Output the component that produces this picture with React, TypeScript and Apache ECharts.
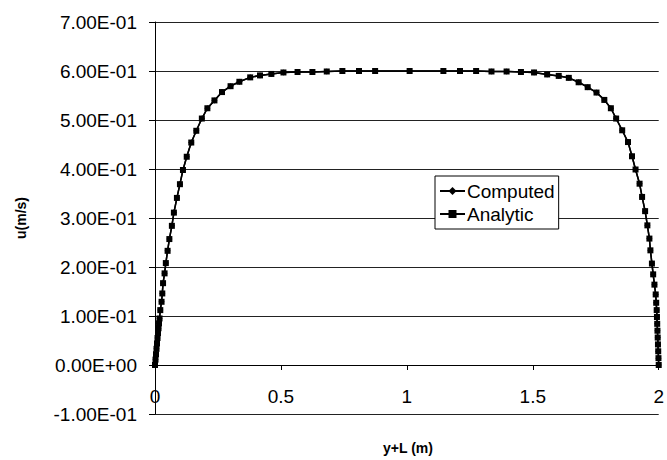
import React, { useEffect, useRef } from "react";
import * as echarts from "echarts";

// y+L (m) positions of the profile points
const xValues = [
  0, 0.002, 0.004, 0.006, 0.008, 0.01, 0.012, 0.014, 0.016, 0.018,
  0.021, 0.026, 0.029, 0.032, 0.038, 0.043, 0.05, 0.057, 0.067, 0.075,
  0.087, 0.099, 0.111, 0.126, 0.144, 0.164, 0.186, 0.208, 0.236, 0.266,
  0.3, 0.335, 0.378, 0.417, 0.462, 0.51, 0.566, 0.625, 0.682, 0.744,
  0.81, 0.874, 1.011,
  1.145, 1.211, 1.275, 1.336, 1.396, 1.453, 1.505, 1.557, 1.603, 1.643,
  1.682, 1.718, 1.753, 1.784, 1.81, 1.831, 1.855, 1.878, 1.894, 1.908,
  1.924, 1.934, 1.946, 1.955, 1.963, 1.967, 1.973, 1.978, 1.983, 1.988,
  1.99, 1.992, 1.993, 1.994, 1.995, 1.996, 1.997, 1.998, 1.999, 2.0,
];

// u (m/s), analytic solution
const analyticU = [
  0, 0.011, 0.022, 0.033, 0.044, 0.055, 0.065, 0.075, 0.085, 0.095,
  0.112, 0.129, 0.146, 0.167, 0.187, 0.208, 0.233, 0.257, 0.284, 0.311,
  0.341, 0.369, 0.398, 0.425, 0.454, 0.478, 0.503, 0.524, 0.54, 0.557,
  0.569, 0.578, 0.587, 0.591, 0.594, 0.597, 0.598, 0.598, 0.599, 0.6,
  0.6, 0.6, 0.6,
  0.6, 0.6, 0.6, 0.599, 0.599, 0.598, 0.597, 0.593, 0.59, 0.586,
  0.577, 0.567, 0.556, 0.541, 0.524, 0.503, 0.479, 0.455, 0.426, 0.399,
  0.37, 0.343, 0.314, 0.285, 0.258, 0.234, 0.207, 0.185, 0.164, 0.144,
  0.127, 0.112, 0.098, 0.084, 0.07, 0.056, 0.042, 0.028, 0.014, 0,
];

// u (m/s), computed solution (indistinguishable from the analytic one in the plot)
const computedU = [
  0, 0.011, 0.022, 0.033, 0.044, 0.055, 0.065, 0.075, 0.085, 0.095,
  0.112, 0.129, 0.146, 0.167, 0.187, 0.208, 0.233, 0.257, 0.284, 0.311,
  0.341, 0.369, 0.398, 0.425, 0.454, 0.478, 0.503, 0.524, 0.54, 0.557,
  0.569, 0.578, 0.587, 0.591, 0.594, 0.597, 0.598, 0.598, 0.599, 0.6,
  0.6, 0.6, 0.6,
  0.6, 0.6, 0.6, 0.599, 0.599, 0.598, 0.597, 0.593, 0.59, 0.586,
  0.577, 0.567, 0.556, 0.541, 0.524, 0.503, 0.479, 0.455, 0.426, 0.399,
  0.37, 0.343, 0.314, 0.285, 0.258, 0.234, 0.207, 0.185, 0.164, 0.144,
  0.127, 0.112, 0.098, 0.084, 0.07, 0.056, 0.042, 0.028, 0.014, 0,
];

const seriesNames = ["Computed", "Analytic"];
const xTitle = "y+L (m)";
const yTitle = "u(m/s)";

const FONT = "'Liberation Sans', Arial, sans-serif";

function sciLabel(v: number): string {
  const s = v.toExponential(2); // e.g. "7.00e-1"
  const [mant, exp] = s.split("e");
  const sign = exp[0] === "-" ? "-" : "+";
  const digits = exp.replace(/^[+-]/, "").padStart(2, "0");
  return `${mant}E${sign}${digits}`;
}

export default function App() {
  const ref = useRef<HTMLDivElement>(null);

  useEffect(() => {
    if (!ref.current) return;
    const chart = echarts.init(ref.current, null, { renderer: "svg" });
    const computedData = xValues.map((x, i) => [x, computedU[i]]);
    const analyticData = xValues.map((x, i) => [x, analyticU[i]]);

    chart.setOption({
      animation: false,
      backgroundColor: "#ffffff",
      textStyle: { fontFamily: FONT, color: "#000" },
      grid: { left: 155, right: 2, top: 22, bottom: 46, containLabel: false },
      xAxis: {
        type: "value",
        min: 0,
        max: 2,
        interval: 0.5,
        offset: -49,
        axisLine: { show: true, onZero: false, lineStyle: { color: "#000", width: 1 } },
        axisTick: { show: true, length: 5, lineStyle: { color: "#000" } },
        axisLabel: { fontSize: 19, color: "#000", fontFamily: FONT, margin: 22 },
        splitLine: { show: false },
      },
      yAxis: {
        type: "value",
        min: -0.1,
        max: 0.7,
        interval: 0.1,
        axisLine: { show: true, onZero: false, lineStyle: { color: "#000", width: 1 } },
        axisTick: { show: true, length: 6, lineStyle: { color: "#000" } },
        axisLabel: {
          fontSize: 19,
          color: "#000",
          fontFamily: FONT,
          margin: 18,
          formatter: (v: number) => sciLabel(v),
        },
        splitLine: { show: true, lineStyle: { color: "#222", width: 1 } },
      },
      legend: {
        orient: "vertical",
        left: 435,
        top: 176,
        data: seriesNames,
        itemWidth: 25,
        itemHeight: 10,
        itemGap: 3,
        padding: [5, 4, 5, 4],
        borderColor: "#000",
        borderWidth: 1,
        borderRadius: 0,
        backgroundColor: "#fff",
        textStyle: { fontSize: 19, color: "#000", fontFamily: FONT, lineHeight: 20, padding: [0, 0, 0, -3] },
        z: 10,
      },
      graphic: [
        {
          type: "text",
          x: 21,
          y: 218,
          rotation: Math.PI / 2,
          style: {
            text: yTitle,
            font: `bold 14px ${FONT}`,
            fill: "#000",
            textAlign: "center",
            textVerticalAlign: "middle",
          },
        },
        {
          type: "text",
          x: 408,
          y: 448,
          style: {
            text: xTitle,
            font: `bold 14px ${FONT}`,
            fill: "#000",
            textAlign: "center",
            textVerticalAlign: "middle",
          },
        },
      ],
      series: [
        {
          name: seriesNames[0],
          type: "line",
          data: computedData,
          symbol: "diamond",
          symbolSize: 6,
          showAllSymbol: true,
          clip: false,
          lineStyle: { color: "#000", width: 1.5 },
          itemStyle: { color: "#000" },
          z: 2,
        },
        {
          name: seriesNames[1],
          type: "line",
          data: analyticData,
          symbol: "rect",
          symbolSize: 6,
          showAllSymbol: true,
          clip: false,
          lineStyle: { color: "#000", width: 1.5 },
          itemStyle: { color: "#000" },
          z: 3,
        },
      ],
    });

    return () => chart.dispose();
  }, []);

  return (
    <div
      ref={ref}
      style={{ position: "absolute", left: 0, top: 0, width: 667, height: 460, background: "#fff" }}
    />
  );
}
